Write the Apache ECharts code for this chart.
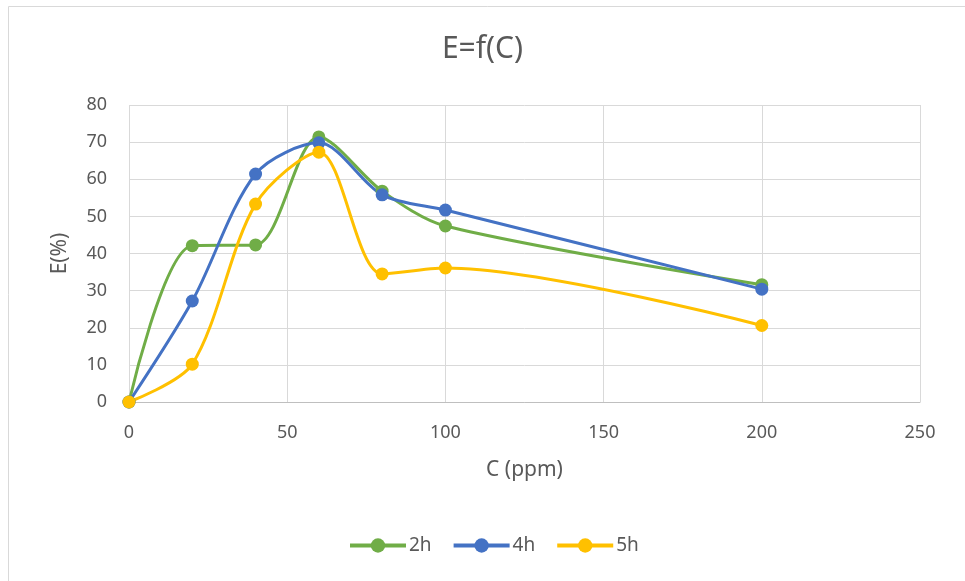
<!DOCTYPE html>
<html>
<head>
<meta charset="utf-8">
<script src="https://cdn.jsdelivr.net/npm/echarts@6/dist/echarts.min.js"></script>
<style>
  html, body { margin: 0; padding: 0; background: #fff; }
  #chart { width: 965px; height: 581px; }
</style>
</head>
<body>
<div id="chart"></div>
<script>
// concentrations (ppm)
var concentrations = [0, 20, 40, 60, 80, 100, 200];
// efficiency E(%) per contact time
var e2h = [0, 42.1, 42.3, 71.4, 56.8, 47.4, 31.6];
var e4h = [0, 27.2, 61.4, 69.8, 55.8, 51.7, 30.4];
var e5h = [0, 10.2, 53.3, 67.3, 34.5, 36.1, 20.6];
var seriesNames = ['2h', '4h', '5h'];
var colors = ['#70AD47', '#4472C4', '#FFC000'];

function pairs(ys) {
    return concentrations.map(function (x, i) { return [x, ys[i]]; });
}

var font = '"Noto Sans", "Open Sans", sans-serif';
var textColor = '#595959';

var chart = echarts.init(document.getElementById('chart'));

var option = {
    animation: false,
    color: colors,
    textStyle: { fontFamily: font },
    title: {
        text: 'E=f(C)',
        left: 'center',
        top: 29,
        textStyle: { color: textColor, fontSize: 30, fontWeight: 'normal', fontFamily: font }
    },
    legend: {
        bottom: 21,
        left: 343,
        itemWidth: 56,
        itemHeight: 18,
        itemGap: 20,
        lineStyle: { width: 4 },
        textStyle: { color: textColor, fontSize: 19, fontFamily: font, padding: [0, 0, 0, -2] },
        data: seriesNames
    },
    grid: {
        left: 129,
        right: 45,
        top: 105,
        bottom: 179
    },
    xAxis: {
        type: 'value',
        min: 0,
        max: 250,
        interval: 50,
        name: 'C (ppm)',
        nameLocation: 'middle',
        nameGap: 58,
        nameTextStyle: { color: textColor, fontSize: 21 },
        axisLine: { show: true, lineStyle: { color: '#bfbfbf', width: 1 } },
        axisTick: { show: false },
        axisLabel: { color: textColor, fontSize: 18, margin: 22 },
        splitLine: { show: true, lineStyle: { color: '#d9d9d9', width: 1 } }
    },
    yAxis: {
        type: 'value',
        min: 0,
        max: 80,
        interval: 10,
        name: 'E(%)',
        nameLocation: 'middle',
        nameGap: 58,
        nameTextStyle: { color: textColor, fontSize: 21 },
        axisLine: { show: false },
        axisTick: { show: false },
        axisLabel: { color: textColor, fontSize: 18, margin: 22 },
        splitLine: { show: true, lineStyle: { color: '#d9d9d9', width: 1 } }
    },
    graphic: [{
        type: 'rect',
        shape: { x: 8.5, y: 6.5, width: 970, height: 590 },
        style: { fill: 'none', stroke: '#d9d9d9', lineWidth: 1 },
        silent: true
    }],
    series: [e2h, e4h, e5h].map(function (ys, i) {
        return {
            name: seriesNames[i],
            type: 'line',
            smooth: 0.3,
            data: pairs(ys),
            symbol: 'circle',
            symbolSize: 13,
            lineStyle: { width: 3, color: colors[i] },
            itemStyle: { color: colors[i] }
        };
    })
};

chart.setOption(option);
</script>
</body>
</html>
